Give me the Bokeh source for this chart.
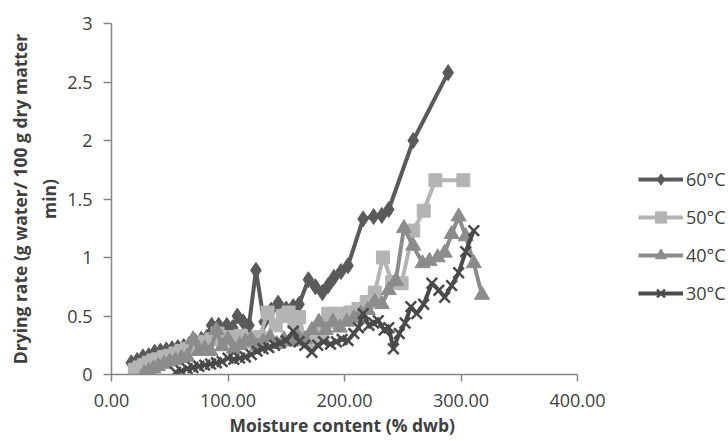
import math
from bokeh.plotting import figure
from bokeh.models import Legend, LegendItem, FixedTicker, Range1d, Title
from bokeh.embed import file_html
from bokeh.resources import INLINE

# ---- data ----
series_names = ["60°C", "50°C", "40°C", "30°C"]

x60 = [17, 22, 27, 32, 37, 42, 47, 52, 57, 62, 67, 72, 77, 82, 86, 92, 99, 104,
       108, 113, 118, 124, 131, 137, 143, 150, 156, 161, 169, 175, 181, 186, 191,
       197, 203, 216, 225, 232, 238, 259, 289]
y60 = [0.10, 0.12, 0.15, 0.16, 0.19, 0.20, 0.21, 0.22, 0.23, 0.24, 0.26, 0.28,
       0.30, 0.32, 0.42, 0.42, 0.42, 0.40, 0.50, 0.45, 0.42, 0.89, 0.45, 0.55,
       0.61, 0.56, 0.58, 0.60, 0.81, 0.75, 0.70, 0.76, 0.83, 0.88, 0.93, 1.33,
       1.35, 1.36, 1.41, 2.00, 2.58]

x50 = [20, 24, 28, 32, 36, 40, 45, 50, 55, 60, 65, 70, 75, 80, 86, 91, 96, 101,
       106, 111, 116, 121, 127, 134, 141, 147, 152, 157, 161, 166, 171, 176, 181,
       186, 191, 197, 205, 212, 219, 226, 233, 241, 249, 259, 268, 278, 302]
y50 = [0.04, 0.06, 0.08, 0.10, 0.12, 0.13, 0.15, 0.16, 0.18, 0.20, 0.22, 0.24,
       0.26, 0.28, 0.30, 0.35, 0.30, 0.32, 0.30, 0.33, 0.30, 0.28, 0.32, 0.53,
       0.42, 0.50, 0.53, 0.45, 0.49, 0.30, 0.28, 0.32, 0.35, 0.52, 0.45, 0.52,
       0.53, 0.56, 0.62, 0.70, 1.00, 0.79, 0.78, 1.23, 1.40, 1.66, 1.66]

x40 = [28, 32, 36, 40, 45, 50, 55, 60, 65, 70, 75, 80, 85, 90, 95, 100, 105, 110,
       115, 120, 125, 130, 136, 142, 148, 154, 160, 166, 172, 178, 184, 190, 196,
       202, 208, 214, 220, 226, 232, 238, 244, 251, 259, 267, 273, 280, 286, 292,
       298, 304, 311, 318]
y40 = [0.01, 0.03, 0.05, 0.07, 0.09, 0.11, 0.12, 0.14, 0.15, 0.30, 0.20, 0.22,
       0.20, 0.38, 0.24, 0.30, 0.22, 0.25, 0.28, 0.30, 0.24, 0.28, 0.32, 0.26,
       0.30, 0.28, 0.33, 0.30, 0.38, 0.45, 0.38, 0.45, 0.40, 0.45, 0.48, 0.52,
       0.55, 0.62, 0.60, 0.72, 0.80, 1.25, 1.10, 0.95, 0.97, 1.00, 1.04, 1.20,
       1.35, 1.18, 0.95, 0.68]

x30 = [55, 60, 65, 70, 75, 80, 85, 90, 95, 100, 105, 110, 115, 120, 125, 130, 135,
       140, 145, 150, 156, 161, 166, 172, 177, 182, 188, 193, 198, 203, 208, 212,
       216, 221, 225, 229, 234, 238, 242, 247, 252, 257, 262, 268, 275, 281, 286,
       292, 298, 304, 311]
y30 = [0.02, 0.03, 0.05, 0.06, 0.07, 0.08, 0.09, 0.10, 0.11, 0.14, 0.13, 0.14,
       0.15, 0.17, 0.20, 0.22, 0.23, 0.25, 0.27, 0.29, 0.37, 0.28, 0.25, 0.19,
       0.25, 0.28, 0.26, 0.28, 0.30, 0.29, 0.35, 0.40, 0.52, 0.42, 0.44, 0.46,
       0.38, 0.40, 0.22, 0.35, 0.44, 0.58, 0.52, 0.60, 0.78, 0.72, 0.66, 0.76,
       0.87, 1.05, 1.23]

x_ticks = [0, 100, 200, 300, 400]
x_tick_labels = ["0.00", "100.00", "200.00", "300.00", "400.00"]
y_ticks = [0, 0.5, 1, 1.5, 2, 2.5, 3]
y_tick_labels = ["0", "0.5", "1", "1.5", "2", "2.5", "3"]

x_title = "Moisture content (% dwb)"
y_title = "Drying rate (g water/ 100 g dry matter\nmin)"

# ---- layout: the frame reaches the right edge so the legend sits inside it;
# the x axis itself is bounded to 0..400 (466 px wide)
W, H = 728, 441
LEFT, TOP, BOTTOM = 111, 23, 67
AXIS_PX = 466
frame_w = W - LEFT
x_end = x_ticks[-1] * frame_w / AXIS_PX

p = figure(width=W, height=H, output_backend="svg", toolbar_location=None,
           x_range=Range1d(0, x_end), y_range=Range1d(0, 3),
           min_border_left=LEFT, min_border_right=0,
           min_border_top=TOP, min_border_bottom=BOTTOM)
p.outline_line_color = None
p.xgrid.visible = False
p.ygrid.visible = False
p.background_fill_color = "white"

AX = "#868686"
TXT = "#404040"
FONT = "Open Sans"

for ax in (p.xaxis[0], p.yaxis[0]):
    ax.axis_line_color = AX
    ax.axis_line_width = 1.5
    ax.major_tick_line_color = AX
    ax.major_tick_line_width = 1.5
    ax.major_tick_in = 0
    ax.minor_tick_line_color = None
    ax.major_label_text_font = FONT
    ax.major_label_text_font_size = "18px"
    ax.major_label_text_color = TXT
    ax.axis_label_text_font = FONT
    ax.axis_label_text_font_style = "bold"
    ax.axis_label_text_font_size = "17.5px"
    ax.axis_label_text_color = TXT

p.xaxis.ticker = FixedTicker(ticks=x_ticks)
p.xaxis.bounds = (x_ticks[0], x_ticks[-1])
p.xaxis.major_label_overrides = {t: l for t, l in zip(x_ticks, x_tick_labels)}
p.xaxis.major_tick_out = 7
p.xaxis.major_label_standoff = 12

p.yaxis.ticker = FixedTicker(ticks=y_ticks)
p.yaxis.major_label_overrides = {t: l for t, l in zip(y_ticks, y_tick_labels)}
p.yaxis.major_tick_out = 8
p.yaxis.major_label_standoff = 11
p.yaxis.axis_label = y_title
p.yaxis.axis_label_standoff = 3
p.yaxis.axis_label_text_line_height = 1.2

p.add_layout(Title(text=x_title, align="left", offset=118, standoff=3,
                   text_font=FONT, text_font_style="bold", text_font_size="17.5px",
                   text_color=TXT), "below")

styles = [
    dict(color="#5a5a5a", marker="diamond", size=16, lw=0),
    dict(color="#b4b4b4", marker="square", size=13, lw=0),
    dict(color="#8c8c8c", marker="triangle", size=15, lw=0),
    dict(color="#4a4a4a", marker="x", size=15, lw=2.5),
]
data = [(x60, y60), (x50, y50), (x40, y40), (x30, y30)]

items = []
for name, (xs, ys), st in zip(series_names, data, styles):
    l = p.line(xs, ys, line_color=st["color"], line_width=4)
    if st["marker"] == "x":
        s = p.scatter(xs, ys, marker="x", size=st["size"], line_color=st["color"],
                      line_width=st["lw"])
    else:
        s = p.scatter(xs, ys, marker=st["marker"], size=st["size"],
                      fill_color=st["color"], line_color=st["color"], line_width=1)
    items.append(LegendItem(label=name, renderers=[l, s]))

legend = Legend(items=items, location=(527, 67), orientation="vertical",
                padding=0, margin=0, spacing=10, glyph_width=45, glyph_height=28,
                label_height=28, label_standoff=3,
                label_text_font=FONT, label_text_font_size="18px",
                label_text_color=TXT, label_text_baseline="middle",
                border_line_color=None, background_fill_alpha=0)
p.add_layout(legend)

open("out.html", "w").write(file_html(p, INLINE))
